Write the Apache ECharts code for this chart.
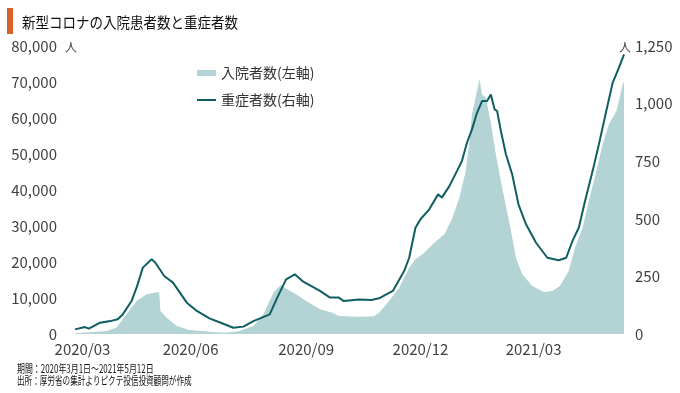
<!DOCTYPE html>
<html>
<head>
<meta charset="utf-8">
<script src="https://cdn.jsdelivr.net/npm/echarts@6/dist/echarts.min.js"></script>
<style>
html,body{margin:0;padding:0;background:#fff;}
#chart{width:680px;height:393px;}
</style>
</head>
<body>
<div id="chart"></div>
<script>
// ---- data ----
const startDate = '2020/03/01';
const endDate = '2021/05/12';
const tickLabels = ['2020/03', '2020/06', '2020/09', '2020/12', '2021/03'];

// 入院者数 (left axis)
const hospDates = ['2020/03/01','2020/03/26','2020/04/03','2020/04/11','2020/04/19','2020/04/27','2020/05/04','2020/05/07','2020/05/08','2020/05/13','2020/05/21','2020/05/31','2020/06/19','2020/06/29','2020/07/10','2020/07/21','2020/07/29','2020/08/06','2020/08/11','2020/08/13','2020/08/15','2020/08/24','2020/09/01','2020/09/12','2020/09/22','2020/09/27','2020/10/13','2020/10/25','2020/10/29','2020/11/06','2020/11/14','2020/11/22','2020/11/27','2020/12/04','2020/12/12','2020/12/20','2020/12/26','2021/01/01','2021/01/06','2021/01/09','2021/01/11','2021/01/15','2021/01/17','2021/01/19','2021/01/22','2021/01/26','2021/01/30','2021/02/04','2021/02/10','2021/02/15','2021/02/20','2021/02/28','2021/03/09','2021/03/16','2021/03/22','2021/03/29','2021/04/03','2021/04/09','2021/04/14','2021/04/20','2021/04/25','2021/04/30','2021/05/06','2021/05/11','2021/05/12'];
const hospValues = [200,830,1750,5470,9170,11030,11500,11670,6390,4530,2220,1110,560,370,830,2220,5470,11470,13330,13600,12860,11030,9170,6860,5920,5000,4800,4900,5920,9170,12860,18420,20750,22580,25360,27690,31860,37860,45280,53610,61030,67500,70750,66590,65640,58700,49920,40640,30470,21200,16580,13330,11670,11940,13330,17500,23970,29440,36940,45280,52690,58250,61940,69360,70000];

// 重症者数 (right axis)
const severeDates = ['2020/03/01','2020/03/09','2020/03/12','2020/03/21','2020/03/29','2020/04/04','2020/04/08','2020/04/15','2020/04/19','2020/04/24','2020/05/01','2020/05/04','2020/05/11','2020/05/18','2020/05/29','2020/06/06','2020/06/16','2020/06/25','2020/07/05','2020/07/13','2020/07/21','2020/08/03','2020/08/09','2020/08/16','2020/08/23','2020/08/29','2020/09/12','2020/09/20','2020/09/27','2020/10/01','2020/10/13','2020/10/23','2020/10/29','2020/11/09','2020/11/18','2020/11/22','2020/11/27','2020/12/01','2020/12/08','2020/12/15','2020/12/18','2020/12/24','2020/12/30','2021/01/03','2021/01/07','2021/01/11','2021/01/15','2021/01/19','2021/01/23','2021/01/26','2021/01/29','2021/01/31','2021/02/03','2021/02/07','2021/02/12','2021/02/17','2021/02/23','2021/03/03','2021/03/12','2021/03/21','2021/03/27','2021/04/01','2021/04/06','2021/04/11','2021/04/17','2021/04/22','2021/04/27','2021/05/03','2021/05/08','2021/05/12'];
const severeValues = [20,30,23,49,56,64,85,143,201,288,324,309,252,223,136,100,68,49,27,32,56,85,158,237,259,230,187,158,158,143,150,148,155,187,273,331,461,498,541,606,592,642,707,751,830,888,960,1011,1011,1040,975,968,881,780,693,563,476,396,331,320,331,404,461,577,707,823,946,1091,1156,1214];

// ---- daily categories ----
function fmt(d){
  const m = String(d.getMonth()+1).padStart(2,'0');
  const dd = String(d.getDate()).padStart(2,'0');
  return d.getFullYear()+'/'+m+'/'+dd;
}
const categories = [];
(function(){
  const s = startDate.split('/').map(Number), e = endDate.split('/').map(Number);
  const d = new Date(s[0], s[1]-1, s[2]);
  const end = new Date(e[0], e[1]-1, e[2]);
  while (d <= end) { categories.push(fmt(d)); d.setDate(d.getDate()+1); }
})();
const hospData = hospDates.map((d,i)=>[d, hospValues[i]]);
const severeData = severeDates.map((d,i)=>[d, severeValues[i]]);

const AREA = '#b3d3d4';
const LINE = '#0f5e62';
const TXT = '#404040';
const FONT = '"Noto Sans CJK JP", "Noto Sans", sans-serif';

const chart = echarts.init(document.getElementById('chart'), null, {renderer:'canvas'});
chart.setOption({
  animation: false,
  backgroundColor: '#fff',
  textStyle: {fontFamily: FONT},
  grid: {left: 75, right: 56, top: 46, bottom: 59, containLabel: false},
  legend: [
    {data: [{name:'入院者数(左軸)', icon:'rect'}], left: 197, top: 65, padding: 0,
     itemWidth: 19, itemHeight: 6, itemStyle:{color: AREA},
     textStyle: {fontSize: 14, color: '#333', fontFamily: FONT, lineHeight: 16}},
    {data: [{name:'重症者数(右軸)', icon:'rect'}], left: 197, top: 92, padding: 0,
     itemWidth: 19, itemHeight: 2, itemStyle:{color: LINE},
     textStyle: {fontSize: 14, color: '#333', fontFamily: FONT, lineHeight: 16}}
  ],
  xAxis: {
    type: 'category', data: categories, boundaryGap: false,
    axisLine: {show: false}, axisTick: {show: false}, splitLine: {show: false},
    axisLabel: {
      interval: function(i, v){ return v.slice(8) === '01' && tickLabels.indexOf(v.slice(0,7)) >= 0; },
      formatter: function(v, i){ return i === 0 ? '{f|' + v.slice(0,7) + '}' : v.slice(0,7); },
      rich: {f: {padding: [0,0,0,15], fontSize: 15, color: TXT, fontFamily: FONT}},
      color: TXT, fontSize: 15, margin: 8, fontFamily: FONT
    }
  },
  yAxis: [
    {type: 'value', min: 0, max: 80000, interval: 10000,
     axisLine:{show:false}, axisTick:{show:false}, splitLine:{show:false},
     axisLabel: {color: TXT, fontSize: 15, margin: 18, fontFamily: FONT}},
    {type: 'value', min: 0, max: 1250, interval: 250, position: 'right',
     axisLine:{show:false}, axisTick:{show:false}, splitLine:{show:false},
     axisLabel: {color: TXT, fontSize: 15, margin: 11, fontFamily: FONT}}
  ],
  series: [
    {name: '入院者数(左軸)', type: 'line', yAxisIndex: 0, data: hospData,
     showSymbol: false, symbol: 'none', lineStyle: {width: 0, color: AREA},
     itemStyle: {color: AREA}, areaStyle: {color: AREA, opacity: 1}, z: 1},
    {name: '重症者数(右軸)', type: 'line', yAxisIndex: 1, data: severeData,
     showSymbol: false, symbol: 'none', lineStyle: {width: 2, color: LINE},
     itemStyle: {color: LINE}, z: 3}
  ],
  graphic: [
    {type: 'rect', left: 7, top: 8, shape: {width: 6, height: 26}, style: {fill: '#d6612b'}},
    {type: 'text', x: 22, y: 22, scaleX: 0.9, style: {text: '新型コロナの入院患者数と重症者数', fontSize: 15, fill: '#111', fontFamily: FONT, verticalAlign: 'middle'}},
    {type: 'text', x: 71, y: 47, style: {text: '人', fontSize: 12, fill: TXT, fontFamily: FONT, align: 'center', verticalAlign: 'middle'}},
    {type: 'text', x: 625, y: 47, style: {text: '人', fontSize: 12, fill: TXT, fontFamily: FONT, align: 'center', verticalAlign: 'middle'}},
    {type: 'text', x: 17, y: 369, scaleX: 0.69, style: {text: '期間：2020年3月1日～2021年5月12日', fontSize: 11.5, fill: '#111', fontFamily: FONT, verticalAlign: 'middle'}},
    {type: 'text', x: 17, y: 381, scaleX: 0.66, style: {text: '出所：厚労省の集計よりピクテ投信投資顧問が作成', fontSize: 11.5, fill: '#111', fontFamily: FONT, verticalAlign: 'middle'}}
  ]
});
</script>
</body>
</html>
